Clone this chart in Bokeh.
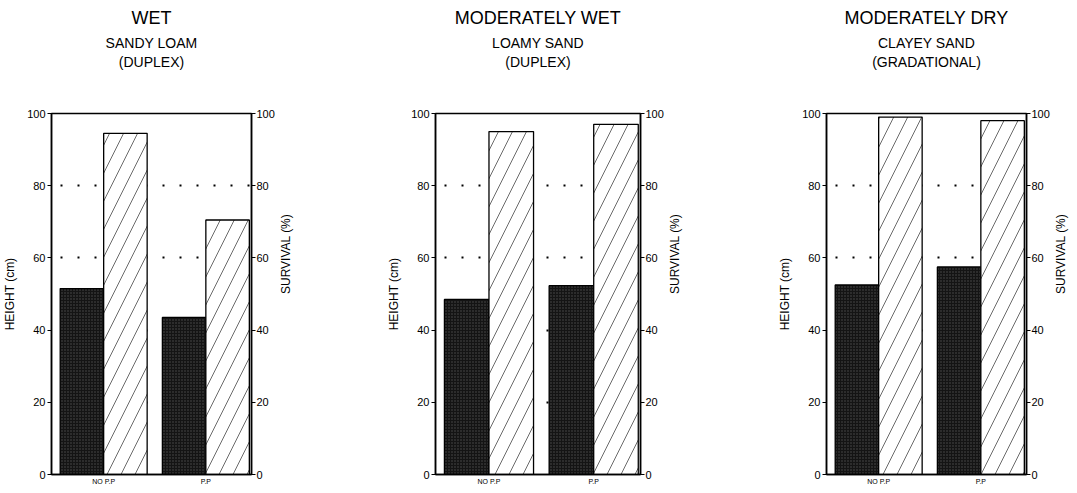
import math
from bokeh.plotting import figure
from bokeh.models import Range1d, LinearAxis, FixedTicker, Title, ColumnDataSource
from bokeh.layouts import row
from bokeh.embed import file_html
from bokeh.resources import INLINE

# ---- data ----
treatments = ["NO P.P", "P.P"]
sites = ["WET", "MODERATELY WET", "MODERATELY DRY"]
soils = ["SANDY LOAM", "LOAMY SAND", "CLAYEY SAND"]
profiles = ["(DUPLEX)", "(DUPLEX)", "(GRADATIONAL)"]
height_wet = [51.5, 43.5]
survival_wet = [94.5, 70.5]
height_mod_wet = [48.5, 52.3]
survival_mod_wet = [95.0, 97.0]
height_mod_dry = [52.5, 57.5]
survival_mod_dry = [99.0, 98.0]
y_ticks = [0, 20, 40, 60, 80, 100]

heights = [height_wet, height_mod_wet, height_mod_dry]
survivals = [survival_wet, survival_mod_wet, survival_mod_dry]

FONT = "Liberation Sans"
group_centers = [1.2, 3.55]

# layout per panel: (fig width, left, right, top, bottom, profile-title offset)
layouts = [(360, 48, 109, 112, 16, -10), (360, 75, 80, 110, 18, 0),
           (357, 106, 47, 113, 19, 0)]


def style_y_axis(ax, label, standoff):
    ax.ticker = FixedTicker(ticks=y_ticks)
    ax.axis_label = label
    ax.axis_label_text_font = FONT
    ax.axis_label_text_font_size = "12px"
    ax.axis_label_text_font_style = "normal"
    ax.axis_label_text_color = "black"
    ax.axis_label_standoff = standoff
    ax.major_label_text_font = FONT
    ax.major_label_text_font_size = "11px"
    ax.major_label_text_color = "black"
    ax.major_tick_out = 4
    ax.major_tick_in = 0
    ax.minor_tick_out = 0
    ax.minor_tick_in = 0
    ax.axis_line_width = 1.5
    ax.major_tick_line_width = 1.2


def add_title(p, text, size, standoff, offset=0):
    p.add_layout(Title(text=text, align="center", offset=offset,
                       text_font=FONT, text_font_size=size,
                       text_font_style="normal", text_color="black",
                       standoff=standoff), "above")


figs = []
for i in range(3):
    w, bl, br, bt, bb, toff = layouts[i]
    p = figure(width=w, height=493, output_backend="svg", toolbar_location=None,
               x_range=Range1d(0, 4.6), y_range=Range1d(0, 100),
               min_border_left=bl, min_border_right=br,
               min_border_top=bt, min_border_bottom=bb)
    p.background_fill_color = "white"
    p.border_fill_color = "white"
    p.outline_line_color = "black"
    p.outline_line_width = 1.5
    p.xgrid.visible = False
    p.ygrid.ticker = FixedTicker(ticks=y_ticks)
    p.ygrid.grid_line_color = "black"
    p.ygrid.grid_line_width = 2
    p.ygrid.grid_line_dash = "2 15"
    p.ygrid.grid_line_dash_offset = 8

    dark_x = [c - 0.5 for c in group_centers]
    hatch_x = [c + 0.5 for c in group_centers]
    src_h = ColumnDataSource(dict(x=dark_x, top=heights[i]))
    src_s = ColumnDataSource(dict(x=hatch_x, top=survivals[i]))
    p.vbar(x="x", top="top", bottom=0, width=1.0, source=src_h,
           fill_color="#141414", line_color="black", line_width=1.3,
           hatch_pattern=".", hatch_color="#505050", hatch_scale=3, hatch_weight=1)
    p.vbar(x="x", top="top", bottom=0, width=1.0, source=src_s,
           fill_color="white", line_color="black", line_width=1.3,
           hatch_pattern="/", hatch_color="#444444", hatch_scale=28, hatch_weight=0.8)

    # x axis
    xa = p.xaxis[0]
    xa.ticker = FixedTicker(ticks=group_centers)
    xa.major_label_overrides = {group_centers[k]: treatments[k] for k in range(2)}
    xa.major_label_text_font = FONT
    xa.major_label_text_font_size = "7px"
    xa.major_label_text_color = "black"
    xa.major_tick_out = 0
    xa.major_tick_in = 0
    xa.minor_tick_out = 0
    xa.minor_tick_in = 0
    xa.axis_line_width = 1.5
    xa.major_label_standoff = 3

    # left axis
    ya = p.yaxis[0]
    style_y_axis(ya, "HEIGHT (cm)", 7)
    ya.major_label_standoff = 2

    # right axis
    p.extra_y_ranges = {"surv": Range1d(0, 100)}
    ra = LinearAxis(y_range_name="surv")
    style_y_axis(ra, "SURVIVAL (%)", 8)
    ra.major_label_standoff = 1
    ra.axis_label_orientation = math.pi / 2
    p.add_layout(ra, "right")

    # titles stacked above the frame (first added sits closest to the frame);
    # a blank spacer title keeps the block near the top of the page
    add_title(p, " ", "13px", 27)
    add_title(p, profiles[i], "14px", 0, toff)
    add_title(p, soils[i], "14px", 2)
    add_title(p, sites[i], "18px", 7)
    figs.append(p)

layout = row(*figs, spacing=0)
open("out.html", "w").write(file_html(layout, INLINE))
